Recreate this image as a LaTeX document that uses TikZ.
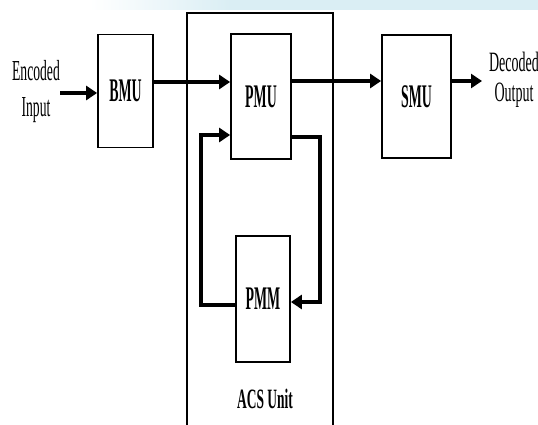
\documentclass[tikz,border=0pt]{standalone}
\usepackage{fontspec}
\setmainfont{Liberation Serif}
\usepackage{graphicx}
\usetikzlibrary{arrows.meta,positioning,calc}
\definecolor{bandblue}{RGB}{218,238,244}
\newcommand{\squeeze}[2][0.42]{\scalebox{#1}[1]{#2}}

\begin{document}
\begin{tikzpicture}[x=1pt,y=-1pt,
  unit/.style={draw,line width=1.8pt,inner sep=0pt,font=\fontsize{33}{38}\selectfont\bfseries},
  flow/.style={line width=3.8pt,-{Triangle[length=11pt,width=14pt]}},
  lbl/.style={align=center,inner sep=0pt,font=\fontsize{29}{36}\selectfont}]
  \useasboundingbox (0,0) rectangle (538,425);
  \fill[white] (0,0) rectangle (538,425);
  % faint band at the top
  \shade[left color=white,right color=bandblue] (90,0) rectangle (230,10);
  \fill[bandblue] (230,0) rectangle (538,10);
  % ACS frame, open at the bottom
  \draw[line width=1.3pt] (187,425) -- (187,13) -- (333,13) -- (333,425);
  \node[font=\fontsize{28}{32}\selectfont\bfseries] (acs) at (265,399) {\squeeze[0.48]{ACS Unit}};

  \node[unit,minimum width=55pt,minimum height=113pt] (bmu) at (125.5,91) {\squeeze{BMU}};
  \node[unit,minimum width=60pt,minimum height=125pt] (pmu) at (261,96.5) {\squeeze{PMU}};
  \node[unit,minimum width=69pt,minimum height=123pt] (smu) at (416.5,96.5) {\squeeze{SMU}};
  \node[unit,minimum width=54pt,minimum height=126pt] (pmm) at (263,299) {\squeeze{PMM}};

  \node[lbl] (enc) at (36,92) {\squeeze[0.47]{Encoded}\\\squeeze[0.47]{Input}};
  \node[lbl,font=\fontsize{28}{30}\selectfont] (dec) at (514,80) {\squeeze[0.5]{Decoded}\\\squeeze[0.5]{Output}};
  \coordinate (in) at (60,93);
  \coordinate (out) at (482,81);

  \draw[flow] (in) -- (in -| bmu.west);
  \draw[flow] ([yshift=9pt]bmu.east) -- ([yshift=9pt]bmu.east -| pmu.west);
  \draw[flow] ([yshift=15.5pt]pmu.east) -- ([yshift=15.5pt]pmu.east -| smu.west);
  \draw[flow] (smu.east |- out) -- (out);
  % feedback loop through PMM
  \draw[flow] ([yshift=-40.5pt]pmu.east) -- ++(28,0) |- ([yshift=-3pt]pmm.east);
  \draw[flow] ([yshift=-6pt]pmm.west) -- ++(-34,0) |- ([yshift=-38.5pt]pmu.west);
\end{tikzpicture}
\end{document}
